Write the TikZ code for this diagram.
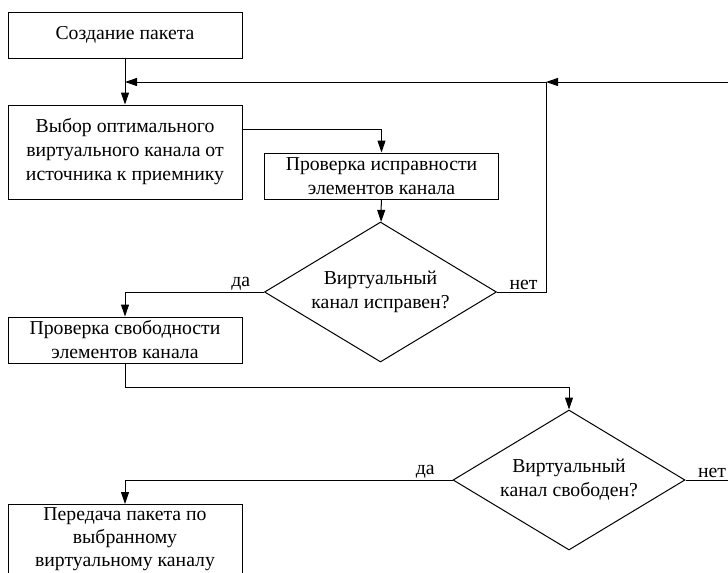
\documentclass[tikz,border=0pt]{standalone}
\usepackage{fontspec}
\setmainfont{Liberation Serif}
\usetikzlibrary{arrows.meta,shapes.geometric}
\tikzset{
  box/.style={draw, line width=0.75pt, align=center, inner sep=0pt,
    minimum width=175.5pt, font=\fontsize{14.8}{18}\selectfont},
  choice/.style={draw, line width=0.75pt, diamond, align=center, inner sep=0pt,
    minimum width=174pt, minimum height=105pt, font=\fontsize{14.8}{18}\selectfont},
  arr/.style={line width=0.75pt, -{Triangle[length=9pt, width=6pt]}},
  line/.style={line width=0.75pt},
  yes/.style={anchor=south east, inner sep=1pt, xshift=-9pt, font=\fontsize{14.8}{16}\selectfont},
  no/.style={anchor=south west, inner sep=1pt, xshift=8pt, font=\fontsize{14.8}{16}\selectfont}
}

\begin{document}
\begin{tikzpicture}[x=0.75pt, y=-0.75pt]
  \clip (0,0) rectangle (728,572);

  \node[box, minimum height=34.5pt] (create) at (125,35) {Создание пакета};
  \node[box, minimum height=70.5pt] (select) at (125,152)
    {Выбор оптимального\\виртуального канала от\\источника к приемнику};
  \node[box, minimum width=176pt, minimum height=34.5pt] (health) at (381.5,176)
    {Проверка исправности\\элементов канала};
  \node[choice, aspect=1.68] (isok) at (380.5,292) {Виртуальный\\канал исправен?};
  \node[box, minimum height=34.5pt] (busy) at (125,340)
    {Проверка свободности\\элементов канала};
  \node[choice, aspect=1.66] (isfree) at (569,480) {Виртуальный\\канал свободен?};
  \node[box, anchor=north, inner ysep=2.5pt, text depth=16pt,
    font=\fontsize{14.8}{17}\selectfont] (send) at (125,504)
    {Передача пакета по\\выбранному\\виртуальному каналу};

  \coordinate (join) at (125,82);
  \coordinate (back) at (546,82);
  \coordinate (edgein) at (730,82);
  \coordinate (edgeout) at (730,480);

  \draw[arr] (create) -- (select);
  \draw[arr] ([yshift=17.25pt]select.east) -| (health.north);
  \draw[arr] (health) -- (isok);

  \draw[arr] (isok.west) node[yes] {да} -| (busy.north);
  \draw[line] (isok.east) node[no] {нет} -| (back);
  \draw[arr] (edgein) -- (back);
  \draw[arr] (back) -- (join);

  \draw[arr] (busy.south) -- ++(0,24) -| (isfree.north);
  \draw[arr] (isfree.west) node[yes, xshift=-3pt] {да} -| (send.north);
  \draw[line] (isfree.east) node[no] {нет} -- (edgeout);
\end{tikzpicture}
\end{document}
